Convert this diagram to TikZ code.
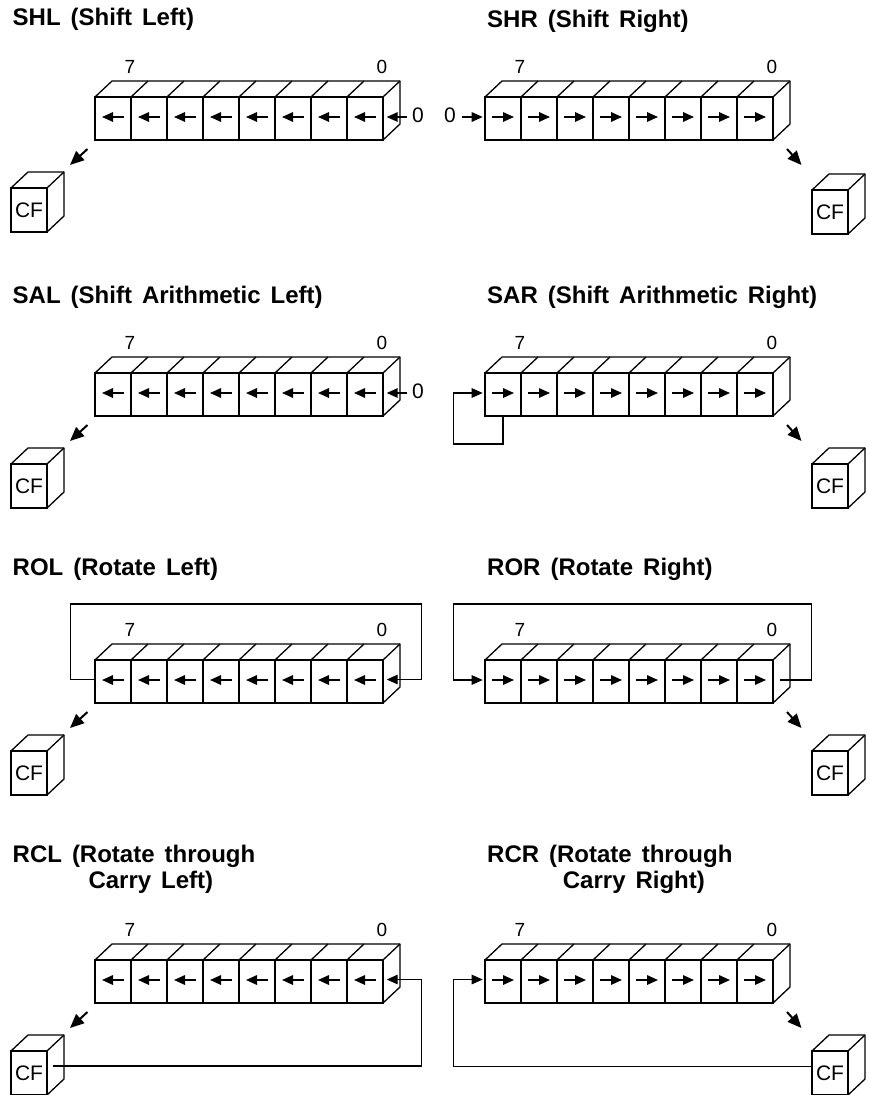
\documentclass[tikz,border=0pt]{standalone}
\usepackage{fontspec}
\setmainfont{Liberation Sans}
\newfontfamily\titlefont[WordSpace=1.5]{Liberation Sans}
\usetikzlibrary{arrows.meta}
\tikzset{
  outline/.style={line width=1.3pt, line join=round},
  cell/.style={draw, line width=1.3pt, minimum width=36pt, minimum height=43pt, inner sep=0pt, outer sep=0pt},
  cfbox/.style={draw, line width=1.3pt, minimum width=36pt, minimum height=44pt, inner sep=0pt, outer sep=0pt, font=\fontsize{21}{23}\selectfont},
  shiftarrow/.style={line width=1.6pt, -{Triangle[length=11pt,width=9.5pt]}},
  flowarrow/.style={line width=1.3pt, line join=miter, -{Triangle[length=11pt,width=9.5pt]}},
  carryarrow/.style={line width=2pt, -{Triangle[length=14pt,width=12pt]}},
  title/.style={font=\titlefont\bfseries\fontsize{24}{26.7}\selectfont, anchor=base west, inner sep=0pt, align=left},
  bitlabel/.style={font=\fontsize{19}{21}\selectfont, inner sep=0pt},
  inlabel/.style={font=\fontsize{21}{23}\selectfont, inner sep=0pt}
}
% #1 name, #2 x of front-left, #3 top of front face, #4 direction (1 right, -1 left)
\newcommand\drawreg[4]{%
  \foreach \k in {0,...,7}{
    \node[cell] (#1\k) at ({#2+18+36*\k},{#3+21.5}) {};
    \draw[shiftarrow] ({#2+18+36*\k-11*(#4)},{#3+20}) -- ({#2+18+36*\k+11*(#4)},{#3+20});
  }
  \foreach \k in {0,...,7}{ \draw[outline] (#1\k.north east) -- ++(17,-16); }
  \draw[outline] (#10.north west) -- ++(17,-16) -- ++(288,0) -- ++(0,43) -- ++(-17,16);
  \node[bitlabel] (#1b7) at ({#2+35},{#3-30}) {7};
  \node[bitlabel] (#1b0) at ({#2+287},{#3-30}) {0};
}
% #1 name, #2 x centre, #3 top of front face
\newcommand\drawcf[3]{%
  \node[cfbox] (#1) at (#2,{#3+22}) {CF};
  \draw[outline] (#1.north west) -- ++(17,-16) -- ++(36,0) -- ++(0,44) -- ++(-17,16);
  \draw[outline] (#1.north east) -- ++(17,-16);
}
\begin{document}
\begin{tikzpicture}[x=1pt,y=-1pt]
\useasboundingbox (0,0) rectangle (870,1095);

% ---------- Row 1 ----------
\node[title] (tshl) at (12.5,25) {SHL (Shift Left)};
\drawreg{shl}{95}{97}{-1}
\drawcf{cfshl}{29}{188}
\coordinate (shlfrom) at (87.5,149);
\coordinate (shlto) at (70,165);
\draw[carryarrow] (shlfrom) -- (shlto);
\node[inlabel] (shlin) at (418,115) {0};
\draw[shiftarrow] (407,117) -- (386.7,117);

\node[title] (tshr) at (487,27) {SHR (Shift Right)};
\drawreg{shr}{485}{97}{1}
\drawcf{cfshr}{830}{190}
\coordinate (shrfrom) at (787,149);
\coordinate (shrto) at (801.5,165);
\draw[carryarrow] (shrfrom) -- (shrto);
\node[inlabel] (shrin) at (450,115) {0};
\draw[shiftarrow] (462,117) -- (482.7,117);

% ---------- Row 2 ----------
\node[title] (tsal) at (12.5,303) {SAL (Shift Arithmetic Left)};
\drawreg{sal}{95}{373}{-1}
\drawcf{cfsal}{29}{464}
\draw[carryarrow] (87.5,425) -- (70,441);
\node[inlabel] (salin) at (418,391) {0};
\draw[shiftarrow] (407,393) -- (386.7,393);

\node[title] (tsar) at (487,303) {SAR (Shift Arithmetic Right)};
\drawreg{sar}{485}{373}{1}
\drawcf{cfsar}{830}{464}
\draw[carryarrow] (787,425) -- (801.5,441);
\coordinate (sarc1) at (503,444);
\coordinate (sarc2) at (453.3,444);
\coordinate (sarc3) at (453.3,393);
\draw[flowarrow] (sar0.south) -- (sarc1) -- (sarc2) -- (sarc3) -- (482.7,393);

% ---------- Row 3 ----------
\node[title] (trol) at (12.5,575) {ROL (Rotate Left)};
\drawreg{rol}{95}{660}{-1}
\drawcf{cfrol}{29}{751}
\draw[carryarrow] (87.5,712) -- (70,728);
\coordinate (rolc1) at (70.7,679.5);
\coordinate (rolc2) at (70.7,604);
\coordinate (rolc3) at (421.7,604);
\coordinate (rolc4) at (421.7,679.5);
\draw[flowarrow] (rol0.west |- rolc1) -- (rolc1) -- (rolc2) -- (rolc3) -- (rolc4) -- (386.7,679.5);

\node[title] (tror) at (487,575) {ROR (Rotate Right)};
\drawreg{ror}{485}{660}{1}
\drawcf{cfror}{830}{751}
\draw[carryarrow] (787,712) -- (801.5,728);
\coordinate (rorc0) at (780,680);
\coordinate (rorc1) at (811.7,680);
\coordinate (rorc2) at (811.7,604);
\coordinate (rorc3) at (453.3,604);
\coordinate (rorc4) at (453.3,680);
\draw[flowarrow] (rorc0) -- (rorc1) -- (rorc2) -- (rorc3) -- (rorc4) -- (482.7,680);

% ---------- Row 4 ----------
\node[title] (trcl) at (12.5,862) {RCL (Rotate through};
\node[title] (trcl2) at (88.3,888.7) {Carry Left)};
\drawreg{rcl}{95}{960}{-1}
\drawcf{cfrcl}{29}{1051}
\draw[carryarrow] (87.5,1012) -- (70,1028);
\coordinate (rclc0) at (53.3,1066);
\coordinate (rclc1) at (421.7,1066);
\coordinate (rclc2) at (421.7,979.5);
\draw[flowarrow] (rclc0) -- (rclc1) -- (rclc2) -- (386.7,979.5);

\node[title] (trcr) at (487,862) {RCR (Rotate through};
\node[title] (trcr2) at (562.7,888.7) {Carry Right)};
\drawreg{rcr}{485}{960}{1}
\drawcf{cfrcr}{830}{1051}
\draw[carryarrow] (787,1012) -- (801.5,1028);
\coordinate (rcrc1) at (453.3,1066.5);
\coordinate (rcrc2) at (453.3,979.5);
\draw[flowarrow] (cfrcr.west |- rcrc1) -- (rcrc1) -- (rcrc2) -- (482.7,979.5);
\end{tikzpicture}
\end{document}
